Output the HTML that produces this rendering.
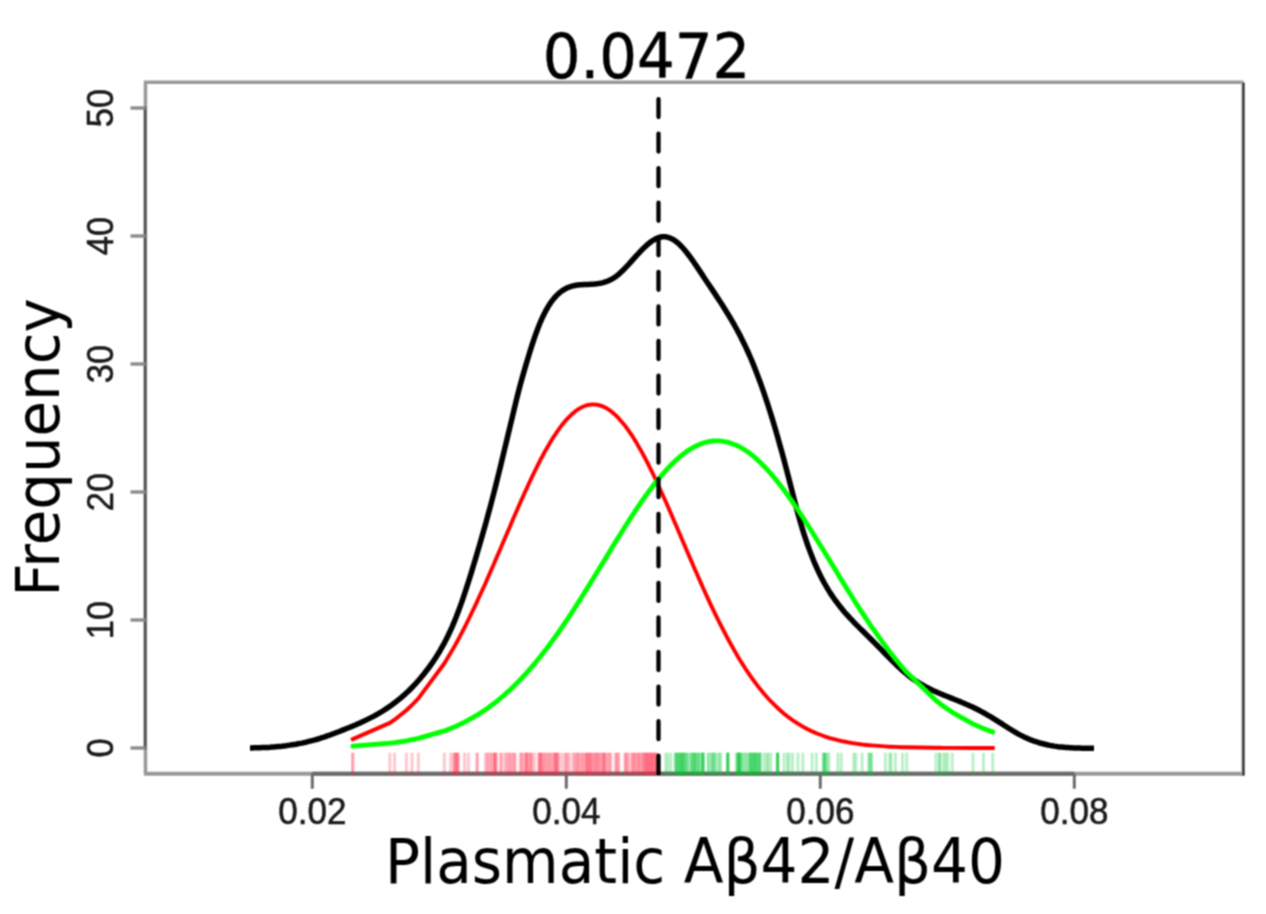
<!DOCTYPE html>
<html lang="en"><head><meta charset="utf-8"><title>Plasmatic Aβ42/Aβ40 density</title>
<style>html,body{margin:0;padding:0;background:#fff;}svg{display:block;}</style></head>
<body>
<svg width="1266" height="914" viewBox="0 0 1266 914">
<defs><filter id="sf" x="0" y="0" width="1266" height="914" filterUnits="userSpaceOnUse" color-interpolation-filters="sRGB"><feConvolveMatrix order="3" kernelMatrix="1 2 1 2 4 2 1 2 1" divisor="16" edgeMode="duplicate" preserveAlpha="true"/></filter></defs>
<g filter="url(#sf)">
<rect width="1266" height="914" fill="#fff"/>
<g fill="none" stroke-linecap="butt">
<path d="M145.5,773.7 L145.5,82.2 L1243.3,82.2" stroke="#999" stroke-width="3.5" stroke-linejoin="miter"/>
<path d="M143.9,773.7 L1244.3,773.7" stroke="#999" stroke-width="4.0"/>
<path d="M1241.9,82.2 L1241.9,773.7" stroke="#c4c4c4" stroke-width="1.6"/>
<path d="M1243.5,82.6 L1243.5,775.5" stroke="#2c2c2c" stroke-width="2.3"/>
<path d="M145.0,106.5 L145.0,749.5" stroke="#4a4a4a" stroke-width="2.4"/>
<path d="M312.3,773.7 L1074.3,773.7" stroke="#6a6a6a" stroke-width="4.0"/>
<path d="M130.5,748.0 L145.5,748.0" stroke="#8c8c8c" stroke-width="3.4"/>
<path d="M130.5,620.0 L145.5,620.0" stroke="#8c8c8c" stroke-width="3.4"/>
<path d="M130.5,492.0 L145.5,492.0" stroke="#8c8c8c" stroke-width="3.4"/>
<path d="M130.5,364.0 L145.5,364.0" stroke="#8c8c8c" stroke-width="3.4"/>
<path d="M130.5,236.0 L145.5,236.0" stroke="#8c8c8c" stroke-width="3.4"/>
<path d="M130.5,108.0 L145.5,108.0" stroke="#8c8c8c" stroke-width="3.4"/>
<path d="M312.3,773.7 L312.3,788.7" stroke="#6c6c6c" stroke-width="3.0"/>
<path d="M566.3,773.7 L566.3,788.7" stroke="#6c6c6c" stroke-width="3.0"/>
<path d="M820.3,773.7 L820.3,788.7" stroke="#6c6c6c" stroke-width="3.0"/>
<path d="M1074.3,773.7 L1074.3,788.7" stroke="#6c6c6c" stroke-width="3.0"/>
</g>
<clipPath id="pc"><rect x="145.5" y="82.2" width="1097.8" height="693.1"/></clipPath>
<g fill="none" clip-path="url(#pc)">
<path d="M250.0,747.9 L252.0,747.9 L254.0,747.8 L256.0,747.8 L258.0,747.8 L260.0,747.7 L262.0,747.6 L264.0,747.6 L266.0,747.5 L268.0,747.4 L270.0,747.3 L272.0,747.1 L274.0,747.0 L276.0,746.8 L278.0,746.6 L280.0,746.4 L282.0,746.2 L284.0,745.9 L286.0,745.7 L288.0,745.4 L290.0,745.1 L292.0,744.8 L294.0,744.5 L296.0,744.2 L298.0,743.8 L300.0,743.4 L302.0,743.1 L304.0,742.6 L306.0,742.2 L308.0,741.7 L310.0,741.2 L312.0,740.7 L314.0,740.2 L316.0,739.6 L318.0,739.0 L320.0,738.4 L322.0,737.7 L324.0,737.1 L326.0,736.4 L328.0,735.7 L330.0,735.0 L332.0,734.2 L334.0,733.5 L336.0,732.7 L338.0,732.0 L340.0,731.2 L342.0,730.4 L344.0,729.6 L346.0,728.8 L348.0,728.0 L350.0,727.2 L352.0,726.4 L354.0,725.5 L356.0,724.7 L358.0,723.8 L360.0,722.9 L362.0,722.0 L364.0,721.1 L366.0,720.1 L368.0,719.1 L370.0,718.1 L372.0,717.1 L374.0,716.1 L376.0,715.0 L378.0,713.8 L380.0,712.7 L382.0,711.5 L384.0,710.2 L386.0,708.9 L388.0,707.6 L390.0,706.2 L392.0,704.8 L394.0,703.3 L396.0,701.8 L398.0,700.2 L400.0,698.6 L402.0,696.9 L404.0,695.2 L406.0,693.3 L408.0,691.5 L410.0,689.5 L412.0,687.5 L414.0,685.4 L416.0,683.3 L418.0,681.0 L420.0,678.7 L422.0,676.3 L424.0,673.9 L426.0,671.3 L428.0,668.7 L430.0,666.0 L432.0,663.2 L434.0,660.2 L436.0,657.2 L438.0,654.0 L440.0,650.7 L442.0,647.2 L444.0,643.6 L446.0,639.8 L448.0,635.7 L450.0,631.5 L452.0,627.1 L454.0,622.4 L456.0,617.5 L458.0,612.3 L460.0,606.9 L462.0,601.3 L464.0,595.4 L466.0,589.4 L468.0,583.2 L470.0,576.9 L472.0,570.4 L474.0,563.8 L476.0,557.1 L478.0,550.3 L480.0,543.5 L482.0,536.5 L484.0,529.5 L486.0,522.4 L488.0,515.1 L490.0,507.7 L492.0,500.1 L494.0,492.4 L496.0,484.5 L498.0,476.4 L500.0,468.3 L502.0,460.0 L504.0,451.7 L506.0,443.3 L508.0,435.0 L510.0,426.6 L512.0,418.3 L514.0,409.9 L516.0,401.6 L518.0,393.5 L520.0,385.8 L522.0,378.5 L524.0,371.4 L526.0,364.6 L528.0,358.0 L530.0,351.4 L532.0,345.1 L534.0,339.1 L536.0,333.4 L538.0,328.0 L540.0,323.0 L542.0,318.4 L544.0,314.2 L546.0,310.4 L548.0,306.9 L550.0,303.7 L552.0,300.9 L554.0,298.4 L556.0,296.1 L558.0,294.1 L560.0,292.4 L562.0,290.9 L564.0,289.6 L566.0,288.5 L568.0,287.5 L570.0,286.8 L572.0,286.2 L574.0,285.7 L576.0,285.3 L578.0,285.0 L580.0,284.8 L582.0,284.7 L584.0,284.6 L586.0,284.5 L588.0,284.4 L590.0,284.3 L592.0,284.2 L594.0,284.1 L596.0,283.9 L598.0,283.6 L600.0,283.3 L602.0,282.9 L604.0,282.4 L606.0,281.7 L608.0,281.0 L610.0,280.1 L612.0,279.0 L614.0,277.8 L616.0,276.4 L618.0,274.8 L620.0,273.1 L622.0,271.2 L624.0,269.3 L626.0,267.2 L628.0,265.1 L630.0,262.9 L632.0,260.6 L634.0,258.4 L636.0,256.2 L638.0,254.0 L640.0,251.8 L642.0,249.7 L644.0,247.8 L646.0,245.9 L648.0,244.1 L650.0,242.5 L652.0,241.0 L654.0,239.8 L656.0,238.7 L658.0,237.8 L660.0,237.2 L662.0,236.8 L664.0,236.7 L666.0,236.8 L668.0,237.3 L670.0,238.0 L672.0,238.9 L674.0,240.1 L676.0,241.5 L678.0,243.1 L680.0,245.0 L682.0,247.0 L684.0,249.3 L686.0,251.6 L688.0,254.2 L690.0,256.8 L692.0,259.6 L694.0,262.5 L696.0,265.4 L698.0,268.4 L700.0,271.4 L702.0,274.4 L704.0,277.5 L706.0,280.5 L708.0,283.5 L710.0,286.4 L712.0,289.4 L714.0,292.4 L716.0,295.4 L718.0,298.5 L720.0,301.5 L722.0,304.6 L724.0,307.8 L726.0,311.0 L728.0,314.2 L730.0,317.5 L732.0,320.9 L734.0,324.4 L736.0,328.0 L738.0,331.6 L740.0,335.4 L742.0,339.4 L744.0,343.4 L746.0,347.6 L748.0,352.0 L750.0,356.5 L752.0,361.2 L754.0,366.1 L756.0,371.2 L758.0,376.4 L760.0,381.8 L762.0,387.4 L764.0,393.2 L766.0,399.1 L768.0,405.2 L770.0,411.5 L772.0,417.9 L774.0,424.5 L776.0,431.3 L778.0,438.3 L780.0,445.4 L782.0,452.6 L784.0,460.0 L786.0,467.6 L788.0,475.2 L790.0,483.0 L792.0,490.9 L794.0,498.6 L796.0,506.3 L798.0,513.7 L800.0,520.8 L802.0,527.6 L804.0,534.1 L806.0,540.2 L808.0,546.0 L810.0,551.4 L812.0,556.6 L814.0,561.6 L816.0,566.2 L818.0,570.6 L820.0,574.8 L822.0,578.7 L824.0,582.5 L826.0,586.0 L828.0,589.4 L830.0,592.6 L832.0,595.6 L834.0,598.5 L836.0,601.3 L838.0,603.9 L840.0,606.5 L842.0,609.0 L844.0,611.4 L846.0,613.7 L848.0,615.9 L850.0,618.1 L852.0,620.2 L854.0,622.3 L856.0,624.4 L858.0,626.4 L860.0,628.4 L862.0,630.3 L864.0,632.3 L866.0,634.3 L868.0,636.2 L870.0,638.2 L872.0,640.2 L874.0,642.2 L876.0,644.3 L878.0,646.3 L880.0,648.4 L882.0,650.4 L884.0,652.5 L886.0,654.5 L888.0,656.6 L890.0,658.6 L892.0,660.6 L894.0,662.6 L896.0,664.5 L898.0,666.4 L900.0,668.3 L902.0,670.1 L904.0,671.8 L906.0,673.5 L908.0,675.2 L910.0,676.7 L912.0,678.2 L914.0,679.7 L916.0,681.0 L918.0,682.3 L920.0,683.6 L922.0,684.7 L924.0,685.9 L926.0,687.0 L928.0,688.0 L930.0,689.0 L932.0,690.0 L934.0,690.9 L936.0,691.8 L938.0,692.7 L940.0,693.5 L942.0,694.4 L944.0,695.2 L946.0,696.0 L948.0,696.8 L950.0,697.6 L952.0,698.4 L954.0,699.2 L956.0,700.0 L958.0,700.8 L960.0,701.6 L962.0,702.5 L964.0,703.3 L966.0,704.2 L968.0,705.0 L970.0,705.9 L972.0,706.8 L974.0,707.8 L976.0,708.8 L978.0,709.8 L980.0,710.8 L982.0,711.9 L984.0,713.0 L986.0,714.1 L988.0,715.3 L990.0,716.4 L992.0,717.6 L994.0,718.9 L996.0,720.1 L998.0,721.4 L1000.0,722.6 L1002.0,723.9 L1004.0,725.2 L1006.0,726.5 L1008.0,727.8 L1010.0,729.0 L1012.0,730.3 L1014.0,731.5 L1016.0,732.6 L1018.0,733.8 L1020.0,734.9 L1022.0,735.9 L1024.0,736.9 L1026.0,737.8 L1028.0,738.7 L1030.0,739.6 L1032.0,740.3 L1034.0,741.1 L1036.0,741.7 L1038.0,742.4 L1040.0,743.0 L1042.0,743.5 L1044.0,744.0 L1046.0,744.5 L1048.0,745.0 L1050.0,745.4 L1052.0,745.7 L1054.0,746.1 L1056.0,746.4 L1058.0,746.7 L1060.0,746.9 L1062.0,747.1 L1064.0,747.3 L1066.0,747.5 L1068.0,747.6 L1070.0,747.7 L1072.0,747.8 L1074.0,747.9 L1076.0,748.0 L1078.0,748.1 L1080.0,748.1 L1082.0,748.2 L1084.0,748.2 L1086.0,748.2 L1088.0,748.2 L1090.0,748.2 L1092.0,748.2 L1094.0,748.2" stroke="#000" stroke-width="5.5" stroke-linecap="butt" stroke-linejoin="round"/>
<path d="M352.8,739.1 L352.8,739.1 L389.9,722.9 L394.6,719.7 L406.4,710.2 L412.0,705.0 L418.4,698.3 L444.3,663.5 L450.6,653.1 L453.6,647.9 L454.3,646.6 L455.4,644.7 L456.3,643.0 L457.0,641.9 L457.8,640.3 L458.3,639.4 L464.5,627.6 L468.3,620.0 L477.1,601.6 L477.2,601.3 L485.5,583.2 L487.3,579.0 L488.6,576.0 L490.9,570.8 L491.7,568.9 L494.0,563.8 L494.8,561.9 L494.9,561.5 L495.3,560.6 L496.8,557.1 L501.0,547.4 L501.1,547.1 L504.6,539.0 L506.6,534.2 L508.1,530.8 L509.7,527.2 L510.9,524.3 L512.8,519.8 L514.2,516.5 L515.2,514.3 L520.2,502.8 L521.4,500.1 L522.8,497.0 L524.8,492.5 L526.1,489.7 L526.6,488.6 L527.0,487.8 L528.8,483.8 L530.1,481.0 L531.0,479.1 L531.9,477.1 L534.4,472.0 L538.4,463.9 L539.2,462.4 L540.1,460.5 L540.9,459.0 L541.3,458.3 L542.3,456.5 L544.2,452.8 L544.9,451.6 L546.7,448.5 L547.8,446.5 L549.5,443.7 L550.6,441.7 L552.3,439.0 L553.8,436.6 L554.7,435.3 L555.5,434.1 L556.2,433.1 L557.0,431.8 L557.7,430.8 L558.9,429.2 L561.9,425.1 L564.9,421.4 L566.1,420.1 L567.4,418.7 L569.4,416.6 L572.7,413.5 L574.5,412.0 L575.9,410.9 L577.4,409.8 L578.3,409.2 L579.7,408.4 L581.5,407.4 L582.8,406.8 L584.1,406.3 L585.6,405.7 L586.5,405.4 L587.5,405.1 L588.0,405.0 L589.1,404.8 L590.1,404.7 L590.6,404.6 L591.9,404.5 L593.0,404.4 L594.4,404.5 L595.4,404.6 L596.7,404.7 L597.4,404.8 L598.8,405.1 L599.8,405.4 L601.3,405.9 L602.8,406.4 L603.7,406.8 L603.8,406.9 L605.1,407.5 L606.3,408.1 L608.2,409.3 L609.6,410.2 L610.8,411.1 L615.3,414.9 L616.5,416.0 L617.9,417.5 L618.8,418.4 L624.9,425.5 L625.7,426.7 L627.1,428.5 L628.2,430.1 L631.0,434.1 L632.4,436.2 L633.6,438.0 L634.6,439.7 L635.8,441.6 L637.5,444.6 L638.3,446.0 L639.7,448.4 L640.7,450.1 L642.6,453.5 L643.2,454.8 L644.2,456.5 L645.2,458.3 L646.1,460.1 L646.7,461.3 L647.3,462.4 L648.3,464.4 L649.0,465.9 L649.9,467.7 L650.6,468.9 L651.5,471.0 L652.1,472.0 L652.8,473.5 L653.7,475.4 L654.7,477.5 L655.4,478.9 L656.0,480.3 L656.8,482.0 L665.8,501.7 L668.0,506.8 L670.8,513.2 L675.3,523.7 L675.4,523.8 L676.7,527.0 L676.8,527.1 L678.1,530.2 L678.8,531.8 L678.9,532.0 L680.3,535.2 L680.7,536.2 L681.6,538.5 L681.9,539.1 L682.4,540.3 L683.5,542.9 L683.8,543.7 L684.7,545.6 L685.4,547.2 L686.7,550.4 L687.4,552.1 L689.0,555.8 L691.0,560.4 L691.7,561.9 L692.1,562.8 L693.8,566.9 L694.0,567.3 L694.8,569.2 L695.5,570.7 L696.0,571.8 L697.9,576.1 L698.3,577.1 L699.1,578.9 L700.5,582.1 L702.6,586.8 L702.8,587.2 L702.9,587.5 L703.1,587.8 L703.2,588.2 L708.3,599.4 L708.4,599.7 L711.5,606.3 L712.0,607.2 L713.1,609.6 L714.6,612.7 L715.0,613.6 L717.5,618.7 L719.5,622.7 L720.7,625.0 L727.5,638.2 L727.6,638.5 L727.8,638.8 L728.0,639.0 L728.1,639.3 L736.3,653.9 L737.4,655.8 L737.7,656.3 L738.8,658.2 L738.9,658.3 L739.0,658.5 L739.2,658.8 L739.6,659.4 L740.7,661.2 L741.6,662.6 L742.7,664.4 L744.7,667.5 L745.8,669.2 L747.6,671.9 L749.3,674.4 L749.9,675.3 L750.1,675.6 L751.4,677.4 L752.1,678.4 L752.6,679.2 L752.9,679.5 L754.8,682.1 L754.8,682.2 L755.5,683.1 L755.6,683.2 L757.1,685.2 L757.8,686.1 L758.9,687.5 L759.0,687.6 L759.9,688.8 L760.6,689.6 L764.0,693.7 L766.7,696.8 L768.2,698.5 L770.7,701.2 L777.3,707.7 L777.4,707.9 L777.6,708.0 L777.8,708.1 L777.9,708.3 L784.1,713.7 L787.3,716.3 L789.1,717.7 L792.5,720.1 L797.9,723.7 L802.9,726.7 L812.1,731.4 L816.4,733.3 L823.0,735.8 L824.3,736.3 L824.3,736.3 L824.4,736.3 L825.8,736.8 L827.2,737.2 L828.9,737.8 L837.9,740.2 L841.3,741.0 L853.7,743.3 L855.8,743.6 L862.1,744.5 L869.0,745.2 L869.2,745.2 L871.1,745.4 L871.5,745.4 L885.4,746.4 L889.7,746.7 L891.1,746.7 L895.4,746.9 L902.5,747.2 L906.7,747.3 L936.0,747.8 L939.5,747.8 L939.6,747.8 L943.1,747.9 L945.5,747.9 L947.8,747.9 L952.2,747.9 L972.9,748.0 L983.5,748.0 L992.8,748.0" stroke="#f00" stroke-width="3.9" stroke-linecap="square" stroke-linejoin="round"/>
<path d="M352.8,746.2 L352.8,746.2 L389.9,743.2 L394.6,742.6 L406.4,740.8 L412.0,739.7 L418.4,738.4 L444.3,730.9 L450.6,728.5 L453.6,727.3 L454.3,726.9 L455.4,726.5 L456.3,726.1 L457.0,725.8 L457.8,725.4 L458.3,725.2 L464.5,722.2 L468.3,720.2 L477.1,715.2 L477.2,715.1 L485.5,709.7 L487.3,708.4 L488.6,707.5 L490.9,705.8 L491.7,705.2 L494.0,703.5 L494.8,702.9 L494.9,702.8 L495.3,702.4 L496.8,701.3 L501.0,697.8 L501.1,697.7 L504.6,694.7 L506.6,692.9 L508.1,691.6 L509.7,690.2 L510.9,689.0 L512.8,687.2 L514.2,685.8 L515.2,684.9 L520.2,679.7 L521.4,678.5 L522.8,677.0 L524.8,674.8 L526.1,673.4 L526.6,672.9 L527.0,672.5 L528.8,670.4 L530.1,668.9 L531.0,667.9 L531.9,666.8 L534.4,663.9 L538.4,659.0 L539.2,658.1 L540.1,656.8 L540.9,655.9 L541.3,655.3 L542.3,654.2 L544.2,651.6 L544.9,650.7 L546.7,648.5 L547.8,647.0 L549.5,644.7 L550.6,643.1 L552.3,640.9 L553.8,638.8 L554.7,637.6 L555.5,636.5 L556.2,635.5 L557.0,634.3 L557.7,633.3 L558.9,631.7 L561.9,627.3 L564.9,622.8 L566.1,621.2 L567.4,619.3 L569.4,616.2 L572.7,611.2 L574.5,608.4 L575.9,606.2 L577.4,603.8 L578.3,602.4 L579.7,600.3 L581.5,597.5 L582.8,595.3 L584.1,593.3 L585.6,590.8 L586.5,589.4 L587.5,587.7 L588.0,587.0 L589.1,585.2 L590.1,583.6 L590.6,582.8 L591.9,580.7 L593.0,578.9 L594.4,576.6 L595.4,575.0 L596.7,572.8 L597.4,571.7 L598.8,569.5 L599.8,567.8 L601.3,565.3 L602.8,562.9 L603.7,561.4 L603.8,561.2 L605.1,559.0 L606.3,557.1 L608.2,554.0 L609.6,551.7 L610.8,549.6 L615.3,542.3 L616.5,540.4 L617.9,538.1 L618.8,536.7 L624.9,527.0 L625.7,525.7 L627.1,523.5 L628.2,521.8 L631.0,517.4 L632.4,515.4 L633.6,513.5 L634.6,511.9 L635.8,510.2 L637.5,507.5 L638.3,506.4 L639.7,504.3 L640.7,502.9 L642.6,500.2 L643.2,499.2 L644.2,497.9 L645.2,496.5 L646.1,495.2 L646.7,494.4 L647.3,493.6 L648.3,492.2 L649.0,491.2 L649.9,490.0 L650.6,489.1 L651.5,487.8 L652.1,487.2 L652.8,486.2 L653.7,485.0 L654.7,483.7 L655.4,482.9 L656.0,482.0 L656.8,481.1 L665.8,470.5 L668.0,468.1 L670.8,465.2 L675.3,460.8 L675.4,460.7 L676.7,459.5 L676.8,459.5 L678.1,458.3 L678.8,457.7 L678.9,457.6 L680.3,456.4 L680.7,456.1 L681.6,455.3 L681.9,455.1 L682.4,454.7 L683.5,453.9 L683.8,453.6 L684.7,453.0 L685.4,452.5 L686.7,451.5 L687.4,451.0 L689.0,449.9 L691.0,448.7 L691.7,448.3 L692.1,448.1 L693.8,447.1 L694.0,447.0 L694.8,446.6 L695.5,446.2 L696.0,446.0 L697.9,445.1 L698.3,444.9 L699.1,444.6 L700.5,444.0 L702.6,443.2 L702.8,443.2 L702.9,443.1 L703.1,443.1 L703.2,443.0 L708.3,441.7 L708.4,441.7 L711.5,441.1 L712.0,441.1 L713.1,441.0 L714.6,440.9 L715.0,440.8 L717.5,440.8 L719.5,440.9 L720.7,441.0 L727.5,442.1 L727.6,442.2 L727.8,442.2 L728.0,442.2 L728.1,442.3 L736.3,445.2 L737.4,445.8 L737.7,445.9 L738.8,446.5 L738.9,446.5 L739.0,446.6 L739.2,446.7 L739.6,446.9 L740.7,447.5 L741.6,448.0 L742.7,448.6 L744.7,449.9 L745.8,450.6 L747.6,451.8 L749.3,453.0 L749.9,453.5 L750.1,453.7 L751.4,454.7 L752.1,455.2 L752.6,455.7 L752.9,455.8 L754.8,457.4 L754.8,457.5 L755.5,458.1 L755.6,458.1 L757.1,459.5 L757.8,460.1 L758.9,461.2 L759.0,461.2 L759.9,462.1 L760.6,462.8 L764.0,466.2 L766.7,469.0 L768.2,470.7 L770.7,473.5 L777.3,481.4 L777.4,481.6 L777.6,481.8 L777.8,482.0 L777.9,482.1 L784.1,490.3 L787.3,494.6 L789.1,497.2 L792.5,502.0 L797.9,509.9 L802.9,517.5 L812.1,532.0 L816.4,538.9 L823.0,549.6 L824.3,551.8 L824.3,551.8 L824.4,552.0 L825.8,554.2 L827.2,556.5 L828.9,559.3 L837.9,574.0 L841.3,579.7 L853.7,599.5 L855.8,602.9 L862.1,612.6 L869.0,623.0 L869.2,623.2 L871.1,626.1 L871.5,626.7 L885.4,646.1 L889.7,651.7 L891.1,653.5 L895.4,659.0 L902.5,667.5 L906.7,672.3 L936.0,700.5 L939.5,703.2 L939.6,703.3 L943.1,706.0 L945.5,707.7 L947.8,709.3 L952.2,712.3 L972.9,723.9 L983.5,728.6 L992.8,732.1" stroke="#0f0" stroke-width="4.8" stroke-linecap="round" stroke-linejoin="round"/>
<g stroke="#ff2244" stroke-opacity="0.25" stroke-width="3.0"><path d="M352.7,752.8V775.3"/><path d="M352.8,752.8V775.3"/><path d="M389.9,752.8V775.3"/><path d="M394.6,752.8V775.3"/><path d="M406.4,752.8V775.3"/><path d="M412.0,752.8V775.3"/><path d="M418.4,752.8V775.3"/><path d="M444.3,752.8V775.3"/><path d="M450.6,752.8V775.3"/><path d="M453.6,752.8V775.3"/><path d="M454.3,752.8V775.3"/><path d="M455.4,752.8V775.3"/><path d="M456.3,752.8V775.3"/><path d="M457.0,752.8V775.3"/><path d="M457.8,752.8V775.3"/><path d="M458.3,752.8V775.3"/><path d="M464.5,752.8V775.3"/><path d="M468.3,752.8V775.3"/><path d="M477.1,752.8V775.3"/><path d="M477.2,752.8V775.3"/><path d="M485.5,752.8V775.3"/><path d="M487.3,752.8V775.3"/><path d="M488.6,752.8V775.3"/><path d="M490.9,752.8V775.3"/><path d="M491.7,752.8V775.3"/><path d="M494.0,752.8V775.3"/><path d="M494.8,752.8V775.3"/><path d="M494.9,752.8V775.3"/><path d="M495.3,752.8V775.3"/><path d="M496.8,752.8V775.3"/><path d="M501.0,752.8V775.3"/><path d="M501.1,752.8V775.3"/><path d="M504.6,752.8V775.3"/><path d="M506.6,752.8V775.3"/><path d="M508.1,752.8V775.3"/><path d="M509.7,752.8V775.3"/><path d="M510.9,752.8V775.3"/><path d="M512.8,752.8V775.3"/><path d="M514.2,752.8V775.3"/><path d="M515.2,752.8V775.3"/><path d="M520.2,752.8V775.3"/><path d="M521.4,752.8V775.3"/><path d="M522.8,752.8V775.3"/><path d="M524.8,752.8V775.3"/><path d="M526.1,752.8V775.3"/><path d="M526.6,752.8V775.3"/><path d="M527.0,752.8V775.3"/><path d="M528.8,752.8V775.3"/><path d="M530.1,752.8V775.3"/><path d="M531.0,752.8V775.3"/><path d="M531.9,752.8V775.3"/><path d="M534.4,752.8V775.3"/><path d="M538.4,752.8V775.3"/><path d="M539.2,752.8V775.3"/><path d="M540.1,752.8V775.3"/><path d="M540.9,752.8V775.3"/><path d="M541.3,752.8V775.3"/><path d="M542.3,752.8V775.3"/><path d="M544.2,752.8V775.3"/><path d="M544.9,752.8V775.3"/><path d="M546.7,752.8V775.3"/><path d="M547.8,752.8V775.3"/><path d="M549.5,752.8V775.3"/><path d="M550.6,752.8V775.3"/><path d="M552.3,752.8V775.3"/><path d="M553.8,752.8V775.3"/><path d="M554.7,752.8V775.3"/><path d="M555.5,752.8V775.3"/><path d="M556.2,752.8V775.3"/><path d="M557.0,752.8V775.3"/><path d="M557.7,752.8V775.3"/><path d="M558.9,752.8V775.3"/><path d="M561.9,752.8V775.3"/><path d="M564.9,752.8V775.3"/><path d="M566.1,752.8V775.3"/><path d="M567.4,752.8V775.3"/><path d="M569.4,752.8V775.3"/><path d="M572.7,752.8V775.3"/><path d="M574.5,752.8V775.3"/><path d="M575.9,752.8V775.3"/><path d="M577.4,752.8V775.3"/><path d="M578.3,752.8V775.3"/><path d="M579.7,752.8V775.3"/><path d="M581.5,752.8V775.3"/><path d="M582.8,752.8V775.3"/><path d="M584.1,752.8V775.3"/><path d="M585.6,752.8V775.3"/><path d="M586.5,752.8V775.3"/><path d="M587.5,752.8V775.3"/><path d="M588.0,752.8V775.3"/><path d="M589.1,752.8V775.3"/><path d="M590.1,752.8V775.3"/><path d="M590.6,752.8V775.3"/><path d="M591.9,752.8V775.3"/><path d="M593.0,752.8V775.3"/><path d="M594.4,752.8V775.3"/><path d="M595.4,752.8V775.3"/><path d="M596.7,752.8V775.3"/><path d="M597.4,752.8V775.3"/><path d="M598.8,752.8V775.3"/><path d="M599.8,752.8V775.3"/><path d="M601.3,752.8V775.3"/><path d="M602.8,752.8V775.3"/><path d="M603.7,752.8V775.3"/><path d="M603.8,752.8V775.3"/><path d="M605.1,752.8V775.3"/><path d="M606.3,752.8V775.3"/><path d="M608.2,752.8V775.3"/><path d="M609.6,752.8V775.3"/><path d="M610.8,752.8V775.3"/><path d="M615.3,752.8V775.3"/><path d="M616.5,752.8V775.3"/><path d="M617.9,752.8V775.3"/><path d="M618.8,752.8V775.3"/><path d="M624.9,752.8V775.3"/><path d="M625.7,752.8V775.3"/><path d="M627.1,752.8V775.3"/><path d="M628.2,752.8V775.3"/><path d="M631.0,752.8V775.3"/><path d="M632.4,752.8V775.3"/><path d="M633.6,752.8V775.3"/><path d="M634.6,752.8V775.3"/><path d="M635.8,752.8V775.3"/><path d="M637.5,752.8V775.3"/><path d="M638.3,752.8V775.3"/><path d="M639.7,752.8V775.3"/><path d="M640.7,752.8V775.3"/><path d="M642.6,752.8V775.3"/><path d="M643.2,752.8V775.3"/><path d="M644.2,752.8V775.3"/><path d="M645.2,752.8V775.3"/><path d="M646.1,752.8V775.3"/><path d="M646.7,752.8V775.3"/><path d="M647.3,752.8V775.3"/><path d="M648.3,752.8V775.3"/><path d="M649.0,752.8V775.3"/><path d="M649.9,752.8V775.3"/><path d="M650.6,752.8V775.3"/><path d="M651.5,752.8V775.3"/><path d="M652.1,752.8V775.3"/><path d="M652.8,752.8V775.3"/><path d="M653.7,752.8V775.3"/><path d="M654.7,752.8V775.3"/><path d="M655.4,752.8V775.3"/><path d="M656.0,752.8V775.3"/><path d="M656.8,752.8V775.3"/></g>
<g stroke="#00c432" stroke-opacity="0.26" stroke-width="3.0"><path d="M665.8,752.8V775.3"/><path d="M668.0,752.8V775.3"/><path d="M670.8,752.8V775.3"/><path d="M675.3,752.8V775.3"/><path d="M675.4,752.8V775.3"/><path d="M676.7,752.8V775.3"/><path d="M676.8,752.8V775.3"/><path d="M678.1,752.8V775.3"/><path d="M678.8,752.8V775.3"/><path d="M678.9,752.8V775.3"/><path d="M680.3,752.8V775.3"/><path d="M680.7,752.8V775.3"/><path d="M681.6,752.8V775.3"/><path d="M681.9,752.8V775.3"/><path d="M682.4,752.8V775.3"/><path d="M683.5,752.8V775.3"/><path d="M683.8,752.8V775.3"/><path d="M684.7,752.8V775.3"/><path d="M685.4,752.8V775.3"/><path d="M686.7,752.8V775.3"/><path d="M687.4,752.8V775.3"/><path d="M689.0,752.8V775.3"/><path d="M691.0,752.8V775.3"/><path d="M691.7,752.8V775.3"/><path d="M692.1,752.8V775.3"/><path d="M693.8,752.8V775.3"/><path d="M694.0,752.8V775.3"/><path d="M694.8,752.8V775.3"/><path d="M695.5,752.8V775.3"/><path d="M696.0,752.8V775.3"/><path d="M697.9,752.8V775.3"/><path d="M698.3,752.8V775.3"/><path d="M699.1,752.8V775.3"/><path d="M700.5,752.8V775.3"/><path d="M702.6,752.8V775.3"/><path d="M702.8,752.8V775.3"/><path d="M702.9,752.8V775.3"/><path d="M703.1,752.8V775.3"/><path d="M703.2,752.8V775.3"/><path d="M708.3,752.8V775.3"/><path d="M708.4,752.8V775.3"/><path d="M711.5,752.8V775.3"/><path d="M712.0,752.8V775.3"/><path d="M713.1,752.8V775.3"/><path d="M714.6,752.8V775.3"/><path d="M715.0,752.8V775.3"/><path d="M717.5,752.8V775.3"/><path d="M719.5,752.8V775.3"/><path d="M720.7,752.8V775.3"/><path d="M727.5,752.8V775.3"/><path d="M727.6,752.8V775.3"/><path d="M727.8,752.8V775.3"/><path d="M728.0,752.8V775.3"/><path d="M728.1,752.8V775.3"/><path d="M736.3,752.8V775.3"/><path d="M737.4,752.8V775.3"/><path d="M737.7,752.8V775.3"/><path d="M738.8,752.8V775.3"/><path d="M738.9,752.8V775.3"/><path d="M739.0,752.8V775.3"/><path d="M739.2,752.8V775.3"/><path d="M739.6,752.8V775.3"/><path d="M740.7,752.8V775.3"/><path d="M741.6,752.8V775.3"/><path d="M742.7,752.8V775.3"/><path d="M744.7,752.8V775.3"/><path d="M745.8,752.8V775.3"/><path d="M747.6,752.8V775.3"/><path d="M749.3,752.8V775.3"/><path d="M749.9,752.8V775.3"/><path d="M750.1,752.8V775.3"/><path d="M751.4,752.8V775.3"/><path d="M752.1,752.8V775.3"/><path d="M752.6,752.8V775.3"/><path d="M752.9,752.8V775.3"/><path d="M754.8,752.8V775.3"/><path d="M754.8,752.8V775.3"/><path d="M755.5,752.8V775.3"/><path d="M755.6,752.8V775.3"/><path d="M757.1,752.8V775.3"/><path d="M757.8,752.8V775.3"/><path d="M758.9,752.8V775.3"/><path d="M759.0,752.8V775.3"/><path d="M759.9,752.8V775.3"/><path d="M760.6,752.8V775.3"/><path d="M764.0,752.8V775.3"/><path d="M766.7,752.8V775.3"/><path d="M768.2,752.8V775.3"/><path d="M770.7,752.8V775.3"/><path d="M777.3,752.8V775.3"/><path d="M777.4,752.8V775.3"/><path d="M777.6,752.8V775.3"/><path d="M777.8,752.8V775.3"/><path d="M777.9,752.8V775.3"/><path d="M784.1,752.8V775.3"/><path d="M787.3,752.8V775.3"/><path d="M789.1,752.8V775.3"/><path d="M792.5,752.8V775.3"/><path d="M797.9,752.8V775.3"/><path d="M802.9,752.8V775.3"/><path d="M812.1,752.8V775.3"/><path d="M816.4,752.8V775.3"/><path d="M823.0,752.8V775.3"/><path d="M824.3,752.8V775.3"/><path d="M824.3,752.8V775.3"/><path d="M824.4,752.8V775.3"/><path d="M825.8,752.8V775.3"/><path d="M827.2,752.8V775.3"/><path d="M828.9,752.8V775.3"/><path d="M837.9,752.8V775.3"/><path d="M841.3,752.8V775.3"/><path d="M853.7,752.8V775.3"/><path d="M855.8,752.8V775.3"/><path d="M862.1,752.8V775.3"/><path d="M869.0,752.8V775.3"/><path d="M869.2,752.8V775.3"/><path d="M871.1,752.8V775.3"/><path d="M871.5,752.8V775.3"/><path d="M885.4,752.8V775.3"/><path d="M889.7,752.8V775.3"/><path d="M891.1,752.8V775.3"/><path d="M895.4,752.8V775.3"/><path d="M902.5,752.8V775.3"/><path d="M906.7,752.8V775.3"/><path d="M936.0,752.8V775.3"/><path d="M939.5,752.8V775.3"/><path d="M939.6,752.8V775.3"/><path d="M943.1,752.8V775.3"/><path d="M945.5,752.8V775.3"/><path d="M947.8,752.8V775.3"/><path d="M952.2,752.8V775.3"/><path d="M972.9,752.8V775.3"/><path d="M983.5,752.8V775.3"/><path d="M992.8,752.8V775.3"/></g>
<path d="M658.5,773.7 L658.5,86.2" stroke="#000" stroke-width="4.3" stroke-dasharray="18 16.56" stroke-linecap="round"/>
</g>
<g font-family="'Liberation Sans', Arial, sans-serif" font-size="36.3" fill="#1a1a1a" stroke="#1a1a1a" stroke-width="0.55" text-anchor="middle">
<text x="312.3" y="824.4" textLength="68.2" lengthAdjust="spacingAndGlyphs">0.02</text>
<text x="566.3" y="824.4" textLength="68.2" lengthAdjust="spacingAndGlyphs">0.04</text>
<text x="820.3" y="824.4" textLength="68.2" lengthAdjust="spacingAndGlyphs">0.06</text>
<text x="1074.3" y="824.4" textLength="68.2" lengthAdjust="spacingAndGlyphs">0.08</text>
<text transform="translate(112.6,748.0) rotate(-90)" textLength="19.2" lengthAdjust="spacingAndGlyphs">0</text>
<text transform="translate(112.6,620.0) rotate(-90)" textLength="38.4" lengthAdjust="spacingAndGlyphs">10</text>
<text transform="translate(112.6,492.0) rotate(-90)" textLength="38.4" lengthAdjust="spacingAndGlyphs">20</text>
<text transform="translate(112.6,364.0) rotate(-90)" textLength="38.4" lengthAdjust="spacingAndGlyphs">30</text>
<text transform="translate(112.6,236.0) rotate(-90)" textLength="38.4" lengthAdjust="spacingAndGlyphs">40</text>
<text transform="translate(112.6,108.0) rotate(-90)" textLength="38.4" lengthAdjust="spacingAndGlyphs">50</text>
</g>
<g font-family="'DejaVu Sans', 'Liberation Sans', sans-serif" fill="#000">
<text id="ttl" stroke="#000" stroke-width="0.5" x="542.8" y="77.6" font-size="63" textLength="207.5" lengthAdjust="spacingAndGlyphs">0.0472</text>
<text id="xl" x="385" y="883" font-size="61.5" textLength="620" lengthAdjust="spacingAndGlyphs">Plasmatic Aβ42/Aβ40</text>
<text id="yl" transform="translate(58.5,596.8) rotate(-90)" font-size="60" textLength="298.5" lengthAdjust="spacingAndGlyphs">Frequency</text>
</g>
</g>
</svg>
</body></html>
